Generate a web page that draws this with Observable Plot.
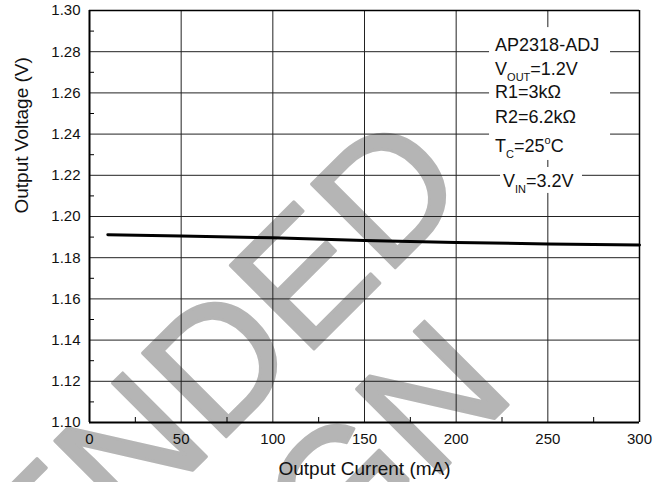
<!DOCTYPE html>
<html><head><meta charset="utf-8">
<script src="https://cdn.jsdelivr.net/npm/d3@7"></script>
<script src="https://cdn.jsdelivr.net/npm/@observablehq/plot@0.6"></script>
<style>
html,body{margin:0;padding:0;background:#fff;}
#wrap{position:relative;width:668px;height:482px;overflow:hidden;}
#wm,#chart{position:absolute;left:0;top:0;}
</style></head><body>
<div id="wrap"><svg id="wm" width="668" height="482"></svg><div id="chart"></div></div>
<script>
// ---- data ----
const currentMA = [10, 50, 100, 150, 200, 250, 300];
const outputV = [1.1912, 1.1905, 1.1897, 1.1883, 1.1874, 1.1867, 1.1862];
const xTicks = [0, 50, 100, 150, 200, 250, 300];
const yTicks = [1.10, 1.12, 1.14, 1.16, 1.18, 1.20, 1.22, 1.24, 1.26, 1.28, 1.30];
const xMinorTicks = [25, 75, 125, 175, 225, 275];
const yMinorTicks = [1.11, 1.13, 1.15, 1.17, 1.19, 1.21, 1.23, 1.25, 1.27, 1.29];
const xLabel = "Output Current (mA)";
const yLabel = "Output Voltage (V)";
const noteLines = [
  [{t: "AP2318-ADJ"}],
  [{t: "V"}, {t: "OUT", sub: true}, {t: "=1.2V"}],
  [{t: "R1=3kΩ"}],
  [{t: "R2=6.2kΩ"}],
  [{t: "T"}, {t: "C", sub: true}, {t: "=25"}, {t: "o", sup: true}, {t: "C"}],
  [{t: "V"}, {t: "IN", sub: true}, {t: "=3.2V"}]
];
const noteX = [221.5, 221.5, 221.5, 221.5, 221.5, 225.8];
const noteY = [1.2801, 1.2684, 1.2573, 1.2451, 1.2311, 1.2141];
const noteBoxX1 = [218.2, 224.2];
const noteBoxX2 = [284.2, 268.9];
const noteBoxY1 = [1.2917, 1.2238];
const noteBoxY2 = [1.2272, 1.2112];
const watermarkLines = ["NOT RECOMMENDED", "FOR NEW DESIGN"];

// ---- watermark (background) ----
const wm = d3.select("#wm");
const wmEnds = [[473, 190], [518, 395]];
watermarkLines.forEach((s, i) => {
  wm.append("text")
    .attr("transform", `translate(${wmEnds[i][0]},${wmEnds[i][1]}) rotate(-45)`)
    .attr("text-anchor", "end")
    .attr("font-family", "Liberation Sans, Arial, sans-serif")
    .attr("font-size", 172)
    .attr("fill", "#b5b5b5")
    .attr("stroke", "#b5b5b5")
    .attr("stroke-width", 3)
    .attr("stroke-linejoin", "round")
    .text(s);
});

// ---- chart ----
const rows = currentMA.map((c, i) => ({c, v: outputV[i]}));
const boxes = noteBoxX1.map((x1, i) => ({x1, x2: noteBoxX2[i], y1: noteBoxY1[i], y2: noteBoxY2[i]}));
const fmt = d3.format(".2f");

const plot = Plot.plot({
  width: 668, height: 482,
  marginLeft: 89, marginRight: 29, marginTop: 10, marginBottom: 60,
  x: {domain: [0, 300], axis: null},
  y: {domain: [1.10, 1.30], axis: null},
  style: {background: "transparent", fontFamily: "Liberation Sans, Arial, sans-serif", color: "#111"},
  marks: [
    Plot.ruleX(xTicks, {stroke: "#222", strokeWidth: 1}),
    Plot.ruleY(yTicks, {stroke: "#222", strokeWidth: 1}),
    Plot.rect(boxes, {x1: "x1", x2: "x2", y1: "y1", y2: "y2", fill: "white"}),
    Plot.tickY(yMinorTicks, {insetRight: 545, stroke: "#000"}),
    Plot.tickX(xMinorTicks, {insetTop: 407, stroke: "#000"}),
    Plot.line(rows, {x: "c", y: "v", stroke: "#000", strokeWidth: 3}),
    Plot.ruleX([0], {stroke: "#000", strokeWidth: 2}),
    Plot.ruleY([1.10], {stroke: "#000", strokeWidth: 2}),
    Plot.ruleX([300], {stroke: "#000", strokeWidth: 1.5}),
    Plot.ruleY([1.30], {stroke: "#000", strokeWidth: 1.5}),
    Plot.text(yTicks, {x: 0, y: d => d, text: d => fmt(d), textAnchor: "end", dx: -9, fontSize: 15, fill: "#111"}),
    Plot.text(xTicks, {x: d => d, y: 1.10, text: d => String(d), lineAnchor: "top", dy: 11, fontSize: 15, fill: "#111"}),
    Plot.text([xLabel], {frameAnchor: "bottom", lineAnchor: "bottom", dy: 52, fontSize: 19, fill: "#111"}),
    Plot.text([yLabel], {frameAnchor: "left", rotate: -90, lineAnchor: "bottom", dx: -62, dy: -3, fontSize: 19, fill: "#111"})
  ]
});
document.getElementById("chart").appendChild(plot);

// ---- annotation text with sub/superscripts ----
const sx = plot.scale("x"), sy = plot.scale("y");
const svg = d3.select(plot);
const g = svg.append("g")
  .attr("font-family", "Liberation Sans, Arial, sans-serif")
  .attr("font-size", 18).attr("fill", "#111").attr("text-anchor", "start");
noteLines.forEach((parts, i) => {
  const t = g.append("text").attr("x", sx.apply(noteX[i])).attr("y", sy.apply(noteY[i]));
  let shift = 0;
  parts.forEach(p => {
    const target = p.sub ? 6 : p.sup ? -8 : 0;
    const ts = t.append("tspan").attr("dy", target - shift).text(p.t);
    if (p.sub || p.sup) ts.attr("font-size", 11);
    shift = target;
  });
});
</script>
</body></html>
